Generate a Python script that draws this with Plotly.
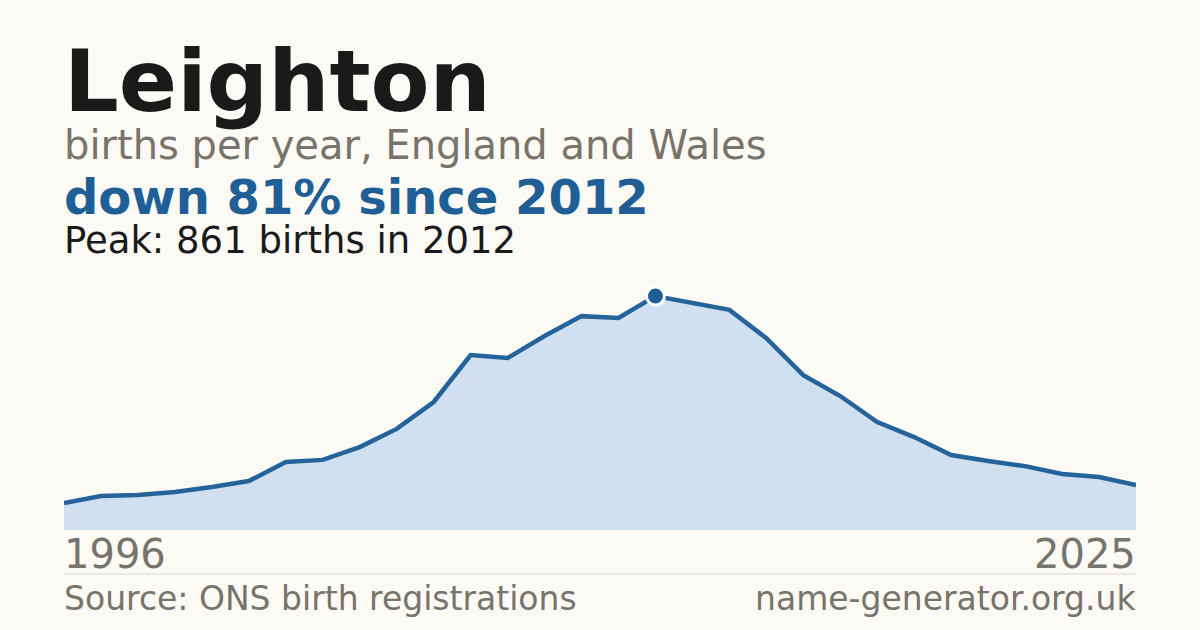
import plotly.graph_objects as go

# births per year for the name
years = list(range(1996, 2026))
births = [99, 125, 129, 140, 158, 180, 250, 258, 305, 372,
          471, 644, 633, 714, 787, 780, 861, 835, 810, 706,
          570, 493, 397, 342, 276, 254, 235, 206, 195, 165]

peak_year = 2012
peak_births = 861

W, H = 1200, 630
BG = "#fbfaf5"
BLUE = "#1f5f96"
GREY = "#78736b"
INK = "#1a1a1a"
FONT = "DejaVu Sans"


def px_x(px):
    return px / W


def px_y(py):
    return 1 - py / H


fig = go.Figure()

fig.add_trace(go.Scatter(
    x=years, y=births,
    mode="lines",
    line=dict(color="#24649b", width=4.5),
    fill="tozeroy",
    fillcolor="#d0e0f0",
    hoverinfo="skip",
))

fig.add_trace(go.Scatter(
    x=[peak_year], y=[peak_births],
    mode="markers",
    marker=dict(size=18, color=BLUE, line=dict(color="white", width=3)),
    hoverinfo="skip",
))


def label(text, px, py_bottom, size, color, bold=False, anchor="left"):
    fig.add_annotation(
        x=px_x(px), y=px_y(py_bottom), xref="paper", yref="paper",
        xanchor=anchor, yanchor="bottom", showarrow=False,
        text="<b>%s</b>" % text if bold else text,
        font=dict(family=FONT, size=size, color=color),
    )


label("Leighton", 62, 133, 86, INK, bold=True)
label("births per year, England and Wales", 62, 170, 40, GREY)
label("down 81% since 2012", 62, 227, 48, BLUE, bold=True)
label("Peak: 861 births in 2012", 62, 264, 37, INK)
label(str(years[0]), 62, 579, 40, GREY)
label(str(years[-1]), 1138, 579, 40, GREY, anchor="right")
label("Source: ONS birth registrations", 62, 620, 33, GREY)
label("name-generator.org.uk", 1138, 620, 33, GREY, anchor="right")

fig.add_shape(
    type="line", xref="paper", yref="paper",
    x0=px_x(64), x1=px_x(1136), y0=px_y(574), y1=px_y(574),
    line=dict(color="#dcd8d0", width=1),
)

fig.update_layout(
    width=W, height=H,
    margin=dict(l=0, r=0, t=0, b=0),
    paper_bgcolor=BG, plot_bgcolor=BG,
    showlegend=False,
    xaxis=dict(domain=[px_x(64), px_x(1136)], range=[years[0], years[-1]],
               visible=False, fixedrange=True),
    yaxis=dict(domain=[px_y(530), px_y(280)], range=[0, 920],
               visible=False, fixedrange=True),
)

fig.write_html("out.html", config={"displayModeBar": False},
               post_script="document.body.style.margin='0';"
                           "document.body.style.background='%s';" % BG)
